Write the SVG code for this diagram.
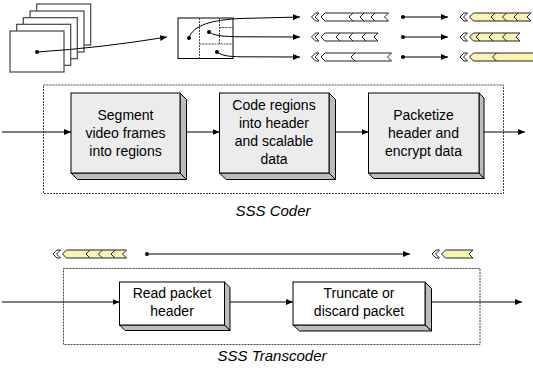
<svg xmlns="http://www.w3.org/2000/svg" width="533" height="370" viewBox="0 0 533 370">
<defs>
<marker id="ah" markerUnits="userSpaceOnUse" markerWidth="8" markerHeight="7" refX="7" refY="3" orient="auto">
<path d="M0,0 L7,3 L0,6 z" fill="#000"/>
</marker>
<polygon id="hdr" points="0,0 4,-4 7.5,-4 3.5,0 7.5,4 4,4"/>
</defs>
<style>
.t{font-family:"Liberation Sans",Arial,sans-serif;font-size:14px;fill:#000;text-anchor:middle}
.cap{font-family:"Liberation Sans",Arial,sans-serif;font-size:15px;font-style:italic;fill:#000;text-anchor:middle}
.arr{fill:none;stroke:#000;stroke-width:1;marker-end:url(#ah)}
.frame{fill:#fff;stroke:#444;stroke-width:1.2}
.dash{fill:none;stroke:#444;stroke-width:1;stroke-dasharray:2,1}
.face{fill:#ececec;stroke:#000;stroke-width:1}
.facew{fill:#fff;stroke:#000;stroke-width:1}
.side{fill:#bcbcbc;stroke:#000;stroke-width:1}
.hd{fill:#fff;stroke:#222;stroke-width:1}
.bw{fill:#fff;stroke:#222;stroke-width:1}
.by{fill:#fbf3b3;stroke:#222;stroke-width:1}
.mk{fill:none;stroke:#222;stroke-width:1}
.dot{fill:#000}
</style>

<g id="frames">
<rect class="frame" x="36.7" y="4" width="54" height="41"/>
<rect class="frame" x="30" y="11" width="54" height="41"/>
<rect class="frame" x="23.3" y="17.7" width="54" height="41"/>
<rect class="frame" x="16.7" y="24.3" width="54" height="41"/>
<rect class="frame" x="10" y="31" width="54" height="41"/>
</g>

<g id="regions">
<rect x="178" y="18" width="55" height="40.5" fill="#fff" stroke="#000" stroke-width="1"/>
<line class="dash" x1="199.5" y1="18" x2="199.5" y2="58.5"/>
<line class="dash" x1="219.5" y1="18" x2="219.5" y2="44"/>
<line class="dash" x1="199.5" y1="44" x2="233" y2="44"/>
<line class="dash" x1="219.5" y1="27.5" x2="233" y2="27.5"/>
</g>

<g id="packets-coded">
<g transform="translate(311.5,17)"><use href="#hdr" class="hd"/><polygon class="bw" points="9.5,0 13.5,-4 77,-4 73,0 77,4 13.5,4"/><polyline class="mk" points="41.5,-4 37.5,0 41.5,4"/><polyline class="mk" points="52.5,-4 48.5,0 52.5,4"/><polyline class="mk" points="63.5,-4 59.5,0 63.5,4"/></g>
<g transform="translate(311.5,37)"><use href="#hdr" class="hd"/><polygon class="bw" points="9.5,0 13.5,-4 66.5,-4 62.5,0 66.5,4 13.5,4"/><polyline class="mk" points="28.5,-4 24.5,0 28.5,4"/><polyline class="mk" points="41.5,-4 37.5,0 41.5,4"/><polyline class="mk" points="54.5,-4 50.5,0 54.5,4"/></g>
<g transform="translate(311.5,57)"><use href="#hdr" class="hd"/><polygon class="bw" points="9.5,0 13.5,-4 80,-4 76,0 80,4 13.5,4"/><polyline class="mk" points="43.5,-4 39.5,0 43.5,4"/></g>
</g>

<g id="packets-encrypted">
<g transform="translate(460,17)"><use href="#hdr" class="hd"/><polygon class="by" points="9.5,0 13.5,-4 71,-4 67,0 71,4 13.5,4"/><polyline class="mk" points="35,-4 31,0 35,4"/><polyline class="mk" points="46.5,-4 42.5,0 46.5,4"/><polyline class="mk" points="58,-4 54,0 58,4"/></g>
<g transform="translate(460,37)"><use href="#hdr" class="hd"/><polygon class="by" points="9.5,0 13.5,-4 60,-4 56,0 60,4 13.5,4"/><polyline class="mk" points="20,-4 16,0 20,4"/><polyline class="mk" points="33,-4 29,0 33,4"/><polyline class="mk" points="46.5,-4 42.5,0 46.5,4"/></g>
<g transform="translate(460,57)"><use href="#hdr" class="hd"/><polygon class="by" points="9.5,0 13.5,-4 82,-4 78,0 82,4 13.5,4"/><polyline class="mk" points="36.5,-4 32.5,0 36.5,4"/></g>
</g>

<g id="packet-in">
<g transform="translate(53,254)"><use href="#hdr" class="hd"/><polygon class="by" points="9.5,0 13.5,-4 73.5,-4 69.5,0 73.5,4 13.5,4"/><polyline class="mk" points="37,-4 33,0 37,4"/><polyline class="mk" points="49.5,-4 45.5,0 49.5,4"/><polyline class="mk" points="62,-4 58,0 62,4"/></g>
</g>
<g id="packet-out">
<g transform="translate(432,254)"><use href="#hdr" class="hd"/><polygon class="by" points="9.5,0 13.5,-4 41,-4 37,0 41,4 13.5,4"/></g>
</g>

<g id="coder-frame">
<rect class="dash" x="43.5" y="85" width="460" height="108.5"/>
<text class="cap" x="273" y="216">SSS Coder</text>
</g>

<g id="segment">
<polygon class="side" points="180,93 186.5,99.5 186.5,179.5 180,173"/>
<polygon class="side" points="71,173 180,173 186.5,179.5 77.5,179.5"/>
<rect class="face" x="71" y="93" width="109" height="80"/>
<text class="t" x="125.5" y="120">Segment</text>
<text class="t" x="125.5" y="138">video frames</text>
<text class="t" x="125.5" y="156">into regions</text>
</g>

<g id="code">
<polygon class="side" points="329,93 335.5,99.5 335.5,179.5 329,173"/>
<polygon class="side" points="219.5,173 329,173 335.5,179.5 226,179.5"/>
<rect class="face" x="219.5" y="93" width="109.5" height="80"/>
<text class="t" x="274" y="110">Code regions</text>
<text class="t" x="274" y="128">into header</text>
<text class="t" x="274" y="146">and scalable</text>
<text class="t" x="274" y="164">data</text>
</g>

<g id="packetize">
<polygon class="side" points="479,93 484,98 484,178.5 479,173"/>
<polygon class="side" points="368.5,173 479,173 484,178.5 373.5,178.5"/>
<rect class="face" x="368.5" y="93" width="110.5" height="80"/>
<text class="t" x="423.5" y="120">Packetize</text>
<text class="t" x="423.5" y="138">header and</text>
<text class="t" x="423.5" y="156">encrypt data</text>
</g>

<g id="transcoder-frame">
<rect class="dash" x="63.5" y="268.5" width="416.5" height="76"/>
<text class="cap" x="272" y="361">SSS Transcoder</text>
</g>

<g id="read">
<polygon class="side" points="224.5,282 230,287.5 230,330.5 224.5,325"/>
<polygon class="side" points="119.5,325 224.5,325 230,330.5 125,330.5"/>
<rect class="facew" x="119.5" y="282" width="105" height="43"/>
<text class="t" x="172" y="298">Read packet</text>
<text class="t" x="172" y="316">header</text>
</g>

<g id="truncate">
<polygon class="side" points="425,282 431.5,288.5 431.5,331 425,325"/>
<polygon class="side" points="293,325 425,325 431.5,331 299.5,331"/>
<rect class="facew" x="293" y="282" width="132" height="43"/>
<text class="t" x="359" y="298">Truncate or</text>
<text class="t" x="359" y="316">discard packet</text>
</g>

<g id="connectors">
<path class="arr" d="M37,52 Q100,48 167,37"/>
<circle class="dot" cx="37" cy="52" r="2"/>
<path class="arr" d="M189,38 C193,25 212,20 240,18.5 L300,17"/>
<path class="arr" d="M209,32 C214,36 225,36.5 240,36.8 L300,37"/>
<path class="arr" d="M217,52 C222,56 230,56.5 240,56.8 L300,57"/>
<circle class="dot" cx="189" cy="38" r="2"/>
<circle class="dot" cx="209" cy="32" r="2"/>
<circle class="dot" cx="217" cy="52" r="2"/>
<path class="arr" d="M403,17 L448,17"/>
<path class="arr" d="M403,37 L448,37"/>
<path class="arr" d="M403,57 L448,57"/>
<circle class="dot" cx="403" cy="17" r="2"/>
<circle class="dot" cx="403" cy="37" r="2"/>
<circle class="dot" cx="403" cy="57" r="2"/>
<path class="arr" d="M2,132 L71,132"/>
<path class="arr" d="M186.5,132 L219.5,132"/>
<path class="arr" d="M335.5,132 L368.5,132"/>
<path class="arr" d="M484,132 L525,132"/>
<path class="arr" d="M147,254 L410,254"/>
<circle class="dot" cx="147" cy="254" r="2"/>
<path class="arr" d="M2,302 L119.5,302"/>
<path class="arr" d="M230,302 L293,302"/>
<path class="arr" d="M431.5,302 L522,302"/>
</g>
</svg>
